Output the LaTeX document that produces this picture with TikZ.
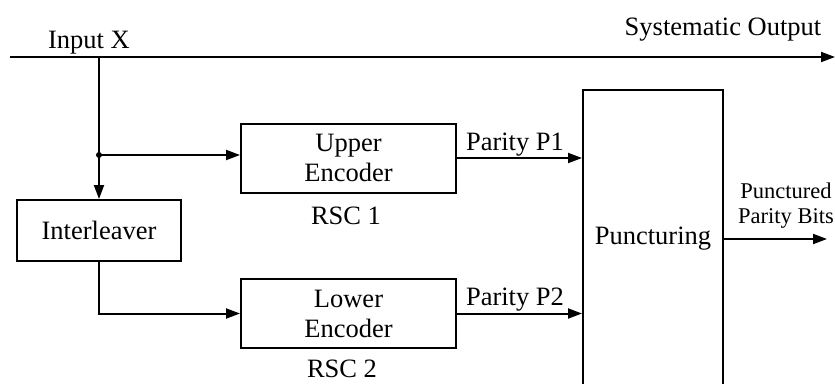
\documentclass[tikz,border=0pt]{standalone}
\usepackage{fontspec}
\setmainfont{Liberation Serif}
\usetikzlibrary{arrows.meta}
\begin{document}
\begin{tikzpicture}[x=1pt,y=-1pt,
  wire/.style={line width=2pt},
  flow/.style={wire,-{Triangle[length=14pt,width=10pt]}},
  blk/.style={draw,line width=2pt,inner sep=0pt,align=center,font=\fontsize{26.5}{30}\selectfont},
  lbl/.style={inner sep=0pt,anchor=base,font=\fontsize{26.5}{30}\selectfont},
  small/.style={inner sep=0pt,anchor=base,font=\fontsize{22.5}{25}\selectfont}]
\clip (0,0) rectangle (835,383);

% blocks
\node[blk,minimum width=215pt,minimum height=69pt] (upper) at (348.5,158) {Upper\\Encoder};
\node[blk,minimum width=215pt,minimum height=69pt] (lower) at (348.5,313.5) {Lower\\Encoder};
\node[blk,minimum width=164pt,minimum height=61pt] (inter) at (99,230.5) {Interleaver};
\node[blk,minimum width=140pt,minimum height=298pt] (punc) at (653,239) {Puncturing};

% labels
\node[lbl] (inlbl) at (89,48) {Input X};
\node[lbl] (syslbl) at (723,35) {Systematic Output};
\node[lbl] (p1) at (515,150) {Parity P1};
\node[lbl] (p2) at (515,305) {Parity P2};
\node[lbl] (rsc1) at (346,224) {RSC 1};
\node[lbl] (rsc2) at (342,377) {RSC 2};
\node[small] (pb1) at (786,198) {Punctured};
\node[small] (pb2) at (786,223) {Parity Bits};

% wiring points
\coordinate (src) at (10,57);
\coordinate (sysout) at (835,57);
\coordinate (tap) at (99,57);
\coordinate (split) at (99,155);
\coordinate (outend) at (827,239);

% connectors
\draw[flow] (src) -- (sysout);
\draw[wire] (tap) -- (split);
\draw[flow] (split) -- (inter.north);
\draw[flow] (split) -- (split -| upper.west);
\fill (split) circle (3pt);
\draw[flow] (inter.south) |- (lower.west);
\draw[flow] (upper.east) -- (upper.east -| punc.west);
\draw[flow] (lower.east) -- (lower.east -| punc.west);
\draw[flow] (punc.east) -- (outend);
\end{tikzpicture}
\end{document}
